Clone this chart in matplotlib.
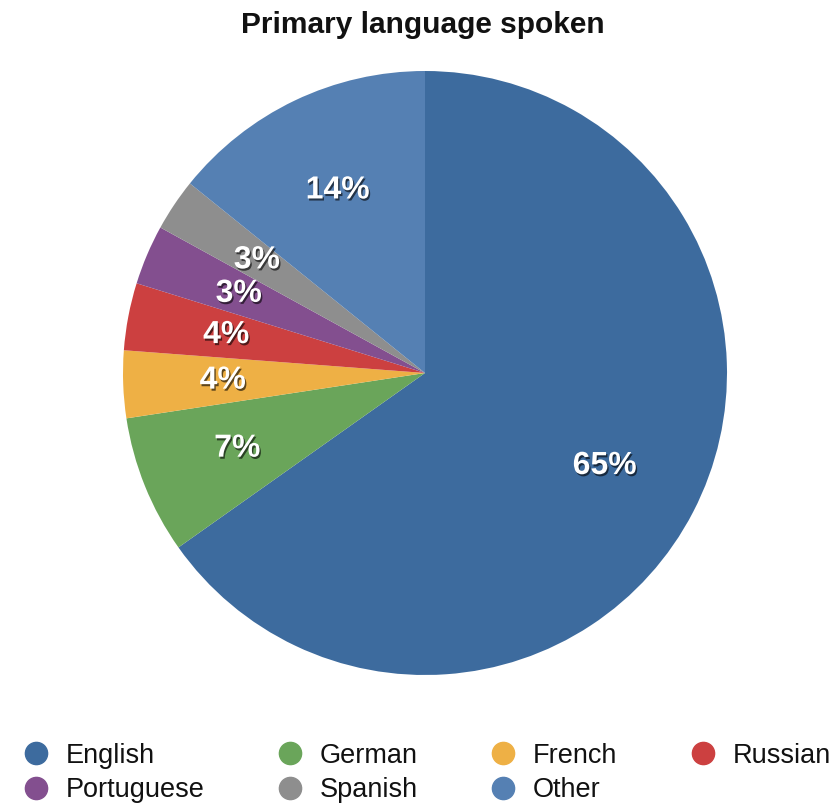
import matplotlib
matplotlib.use("Agg")
import matplotlib.pyplot as plt
import matplotlib.patheffects as pe
from matplotlib.lines import Line2D

plt.rcParams['font.family'] = ['Liberation Sans', 'DejaVu Sans']

languages = ["English", "German", "French", "Russian", "Portuguese", "Spanish", "Other"]
shares = [65.2, 7.4, 3.6, 3.6, 3.2, 2.8, 14.2]
colors = ["#3D6B9E", "#6AA55A", "#EEB045", "#CC4040", "#834F8F", "#8E8E8E", "#5580B3"]
title = "Primary language spoken"

fig = plt.figure(figsize=(8.36, 8.05), dpi=100)
ax = fig.add_axes([123/836, 130/805, 604/836, 604/805])

wedges, texts, autotexts = ax.pie(
    shares, colors=colors, startangle=90, counterclock=False,
    autopct='%.0f%%', pctdistance=0.67, radius=1.0,
    wedgeprops=dict(linewidth=0),
    textprops=dict(color='white', fontsize=23, fontweight='bold'))
for t in autotexts:
    t.set_path_effects([pe.SimplePatchShadow(offset=(1, -1.5), shadow_rgbFace='black', alpha=0.6),
                        pe.Normal()])
ax.set_xlim(-1, 1)
ax.set_ylim(-1, 1)
ax.set_aspect('equal')

fig.text(423/836, 1 - 25/805, title, ha='center', va='center', fontsize=21.5, fontweight='bold', color='#111111')

handles = [Line2D([], [], marker='o', linestyle='none', markersize=16,
                  markerfacecolor=c, markeredgecolor=c) for c in colors]
order = [0, 4, 1, 5, 2, 6, 3]
leg = fig.legend([handles[i] for i in order], [languages[i] for i in order],
                 ncol=4, loc='center', bbox_to_anchor=(428/836, 1 - 773/805),
                 frameon=False, fontsize=19.5, handlelength=0.8, handletextpad=0.7,
                 columnspacing=2.75, labelspacing=0.3, borderaxespad=0)
for t in leg.get_texts():
    t.set_color('#111111')

fig.savefig("out.png", dpi=100)
